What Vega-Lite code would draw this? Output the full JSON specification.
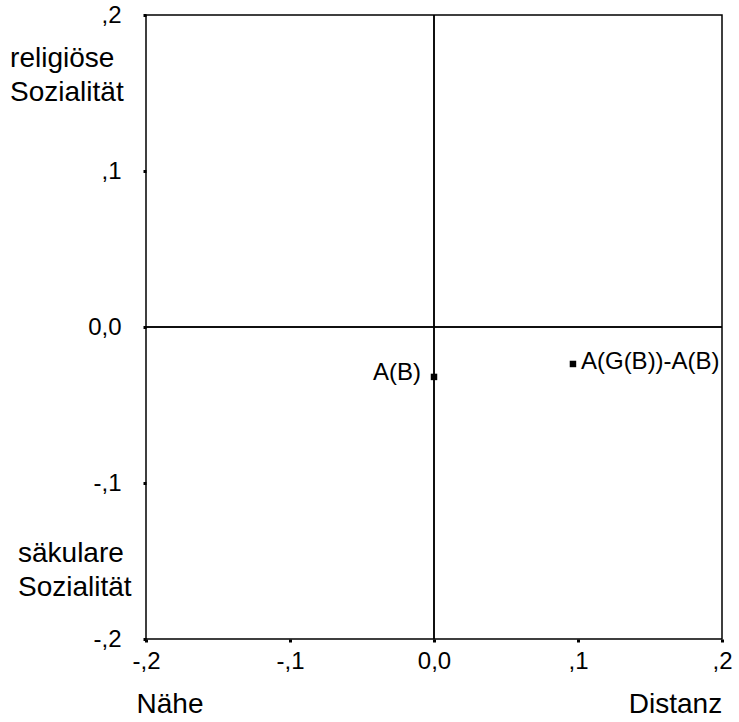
{
  "$schema": "https://vega.github.io/schema/vega-lite/v6.json",
  "autosize": "none",
  "width": 576,
  "height": 624,
  "padding": {"left": 146, "top": 15, "right": 17, "bottom": 83},
  "background": "white",
  "config": {
    "font": "Liberation Sans",
    "view": {"stroke": "black", "strokeWidth": 1.5},
    "axis": {"grid": false, "domain": false, "tickColor": "black", "tickSize": 3, "tickWidth": 3,
      "labelFont": "Liberation Sans", "labelFontSize": 24, "labelColor": "black", "title": null}
  },
  "datasets": {
    "points": [
      {"x": 0.0, "y": -0.032, "label": "A(B)", "side": "left"},
      {"x": 0.0965, "y": -0.0237, "label": "A(G(B))-A(B)", "side": "right"}
    ],
    "annotations": [
      {"x": -0.1833, "y": -0.2475, "text": "Nähe", "pos": "bottom"},
      {"x": 0.1677, "y": -0.2475, "text": "Distanz", "pos": "bottom"},
      {"x": -0.2944, "y": 0.1667, "text": "religiöse\nSozialität", "pos": "left"},
      {"x": -0.2889, "y": -0.1506, "text": "säkulare\nSozialität", "pos": "left"}
    ]
  },
  "layer": [
    {
      "data": {"name": "points"},
      "mark": {"type": "rule", "color": "black", "strokeWidth": 1.5},
      "encoding": {
        "x": {"datum": 0, "type": "quantitative",
          "scale": {"domain": [-0.2, 0.2], "nice": false, "zero": false},
          "axis": {"values": [-0.2, -0.1, 0, 0.1, 0.2], "labelPadding": 7, "labelFlush": false,
            "labelExpr": "datum.value == 0 ? '0,0' : (datum.value < 0 ? '-' : '') + ',' + abs(round(datum.value * 10))"}}
      }
    },
    {
      "data": {"name": "points"},
      "mark": {"type": "rule", "color": "black", "strokeWidth": 1.5},
      "encoding": {
        "y": {"datum": 0, "type": "quantitative",
          "scale": {"domain": [-0.2, 0.2], "nice": false, "zero": false},
          "axis": {"values": [-0.2, -0.1, 0, 0.1, 0.2], "labelPadding": 22, "labelFlush": false,
            "labelExpr": "datum.value == 0 ? '0,0' : (datum.value < 0 ? '-' : '') + ',' + abs(round(datum.value * 10))"}}
      }
    },
    {
      "data": {"name": "points"},
      "mark": {"type": "square", "color": "black", "opacity": 1, "size": 42},
      "encoding": {
        "x": {"field": "x", "type": "quantitative"},
        "y": {"field": "y", "type": "quantitative"}
      }
    },
    {
      "data": {"name": "points"},
      "transform": [{"filter": "datum.side == 'left'"}],
      "mark": {"type": "text", "align": "right", "baseline": "middle", "dx": -13, "dy": -4, "fontSize": 24, "color": "black"},
      "encoding": {
        "x": {"field": "x", "type": "quantitative"},
        "y": {"field": "y", "type": "quantitative"},
        "text": {"field": "label"}
      }
    },
    {
      "data": {"name": "points"},
      "transform": [{"filter": "datum.side == 'right'"}],
      "mark": {"type": "text", "align": "left", "baseline": "middle", "dx": 8, "dy": -2, "fontSize": 24, "color": "black"},
      "encoding": {
        "x": {"field": "x", "type": "quantitative"},
        "y": {"field": "y", "type": "quantitative"},
        "text": {"field": "label"}
      }
    },
    {
      "data": {"name": "annotations"},
      "transform": [{"filter": "datum.pos == 'bottom'"}],
      "mark": {"type": "text", "align": "center", "baseline": "alphabetic", "fontSize": 28, "color": "black"},
      "encoding": {
        "x": {"field": "x", "type": "quantitative"},
        "y": {"field": "y", "type": "quantitative"},
        "text": {"field": "text"}
      }
    },
    {
      "data": {"name": "annotations"},
      "transform": [{"filter": "datum.pos == 'left'"}],
      "mark": {"type": "text", "align": "left", "baseline": "alphabetic", "fontSize": 28, "color": "black", "lineHeight": 34, "lineBreak": "\n"},
      "encoding": {
        "x": {"field": "x", "type": "quantitative"},
        "y": {"field": "y", "type": "quantitative"},
        "text": {"field": "text"}
      }
    }
  ]
}
